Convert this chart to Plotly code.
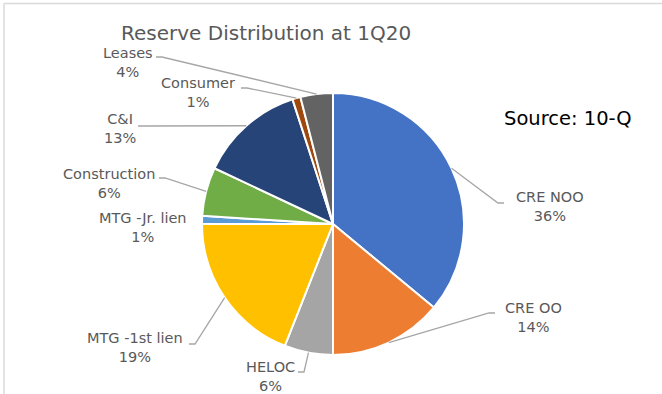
import math
import plotly.graph_objects as go

# ---- data ----
categories = ["CRE NOO", "CRE OO", "HELOC", "MTG -1st lien", "MTG -Jr. lien",
              "Construction", "C&I", "Consumer", "Leases"]
shares = [36, 14, 6, 19, 1, 6, 13, 1, 4]
colors = ["#4472C4", "#ED7D31", "#A5A5A5", "#FFC000", "#5B9BD5",
          "#70AD47", "#264478", "#9E480E", "#636363"]
title_text = "Reserve Distribution at 1Q20"
source_text = "Source: 10-Q"

# ---- layout (pixels) ----
W, H = 662, 394
CX, CY, R = 333, 224, 131
# label centre positions (px) and leader start (px); None = no leader
label_pos = [(550, 206), (533, 317), (270, 376), (135, 347), (143, 227),
             (109, 183), (120, 129), (198, 92), (128, 62)]
leader_start = [(504, 203), (495, 313), (298, 372), (189, 344), None,
                (159, 178), (138, 126), (241, 88), (156, 57)]


def px(x):
    return x / W


def py(y):
    return 1 - y / H


fig = go.Figure(go.Pie(
    labels=categories, values=shares, sort=False, direction="clockwise",
    rotation=0, textinfo="none", hoverinfo="label+percent",
    marker=dict(colors=colors, line=dict(color="white", width=2)),
    domain=dict(x=[px(CX - R), px(CX + R)], y=[py(CY + R), py(CY - R)]),
    showlegend=False,
))

total = sum(shares)
cum = 0
shapes = []
annotations = []
for i, (cat, v) in enumerate(zip(categories, shares)):
    mid = (cum + v / 2) / total * 2 * math.pi
    cum += v
    ax = CX + R * math.sin(mid)
    ay = CY - R * math.cos(mid)
    lx, ly = label_pos[i]
    annotations.append(dict(
        x=px(lx), y=py(ly), xref="paper", yref="paper",
        text=f"{cat}<br>{v}%", showarrow=False, align="center",
        xanchor="center", yanchor="middle",
        font=dict(family="DejaVu Sans", size=14.5, color="#595959"),
    ))
    if leader_start[i] is not None:
        sx, sy = leader_start[i]
        hx = sx + (6 if ax > sx else -6)
        shapes.append(dict(
            type="path", xref="paper", yref="paper",
            path=f"M {px(sx)} {py(sy)} L {px(hx)} {py(sy)} L {px(ax)} {py(ay)}",
            line=dict(color="#A6A6A6", width=1.3),
        ))

annotations.append(dict(
    x=px(266), y=py(33), xref="paper", yref="paper", text=title_text,
    showarrow=False, xanchor="center", yanchor="middle",
    font=dict(family="DejaVu Sans", size=20, color="#595959"),
))
annotations.append(dict(
    x=px(568), y=py(118), xref="paper", yref="paper", text=source_text,
    showarrow=False, xanchor="center", yanchor="middle",
    font=dict(family="DejaVu Sans", size=19.5, color="#000000"),
))

# chart border (top & left visible)
shapes.append(dict(type="line", xref="paper", yref="paper",
                   x0=px(4), x1=1.01, y0=py(3.5), y1=py(3.5),
                   line=dict(color="#D9D9D9", width=1.5)))
shapes.append(dict(type="line", xref="paper", yref="paper",
                   x0=px(4), x1=px(4), y0=py(3.5), y1=-0.01,
                   line=dict(color="#D9D9D9", width=1.5)))

fig.update_layout(
    width=W, height=H, margin=dict(l=0, r=0, t=0, b=0),
    paper_bgcolor="white", plot_bgcolor="white",
    shapes=shapes, annotations=annotations,
)

fig.write_html("out.html")
